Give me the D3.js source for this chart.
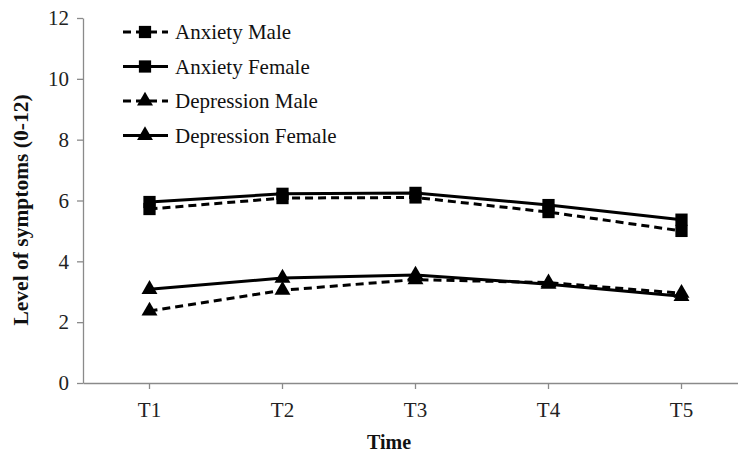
<!DOCTYPE html>
<html><head><meta charset="utf-8">
<script src="https://cdn.jsdelivr.net/npm/d3@7/dist/d3.min.js"></script>
<style>body{margin:0;background:#fff}svg{display:block}svg text{font-family:"Liberation Serif","Times New Roman",serif !important}</style>
</head><body>
<svg id="chart" width="738" height="453"></svg>
<script>
const categories = ["T1", "T2", "T3", "T4", "T5"];
const yTicks = [0, 2, 4, 6, 8, 10, 12];
const seriesNames = ["Anxiety Male", "Anxiety Female", "Depression Male", "Depression Female"];
const anxietyMale = [5.72, 6.08, 6.1, 5.62, 5.0];
const anxietyFemale = [5.95, 6.22, 6.25, 5.85, 5.37];
const depressionMale = [2.37, 3.05, 3.4, 3.3, 2.95];
const depressionFemale = [3.08, 3.45, 3.55, 3.25, 2.85];
const seriesValues = [anxietyMale, anxietyFemale, depressionMale, depressionFemale];
const seriesDashed = [true, false, true, false];
const seriesMarker = ["square", "square", "triangle", "triangle"];

const svg = d3.select("#chart");
const font = "Liberation Serif, Times New Roman, serif";
const mLeft = 83, mTop = 18, mBottom = 383;
const x = d3.scaleBand().domain(categories).range([mLeft, 748]).padding(0);
const y = d3.scaleLinear().domain([0, 12]).range([mBottom, mTop]);
const axisColor = "#8a8a8a";

// y axis
const gy = svg.append("g").attr("transform", `translate(${mLeft},0)`)
  .call(d3.axisLeft(y).tickValues(yTicks).tickSize(6).tickPadding(8).tickSizeOuter(0))
  .attr("font-family", font);
gy.select(".domain").attr("stroke", axisColor).attr("stroke-width", 1.3);
gy.selectAll(".tick line").attr("stroke", axisColor).attr("stroke-width", 1.3);
gy.selectAll(".tick text").style("font-family", font).attr("font-size", 21).attr("fill", "#222");

// x axis
const gx = svg.append("g").attr("transform", `translate(0,${mBottom})`)
  .call(d3.axisBottom(x).tickSize(6).tickPadding(13).tickSizeOuter(0))
  .attr("font-family", font);
gx.select(".domain").attr("stroke", axisColor).attr("stroke-width", 1.3);
gx.selectAll(".tick line").attr("stroke", axisColor).attr("stroke-width", 1.3);
gx.selectAll(".tick text").style("font-family", font).attr("font-size", 21).attr("fill", "#222");

// titles
svg.append("text").attr("x", 389).attr("y", 449).attr("text-anchor", "middle")
  .attr("font-weight", "bold").attr("font-size", 20).attr("fill", "#111").text("Time");
svg.append("text").attr("transform", "translate(28,210) rotate(-90)").attr("text-anchor", "middle")
  .attr("font-weight", "bold").attr("font-size", 21.5).attr("fill", "#111")
  .text("Level of symptoms (0-12)");

const sq = d3.symbol().type(d3.symbolSquare).size(150);
const tri = d3.symbol().type(d3.symbolTriangle).size(110);
const line = d3.line().x((d, i) => x(categories[i]) + x.bandwidth() / 2).y(d => y(d));

seriesValues.forEach((vals, s) => {
  const g = svg.append("g");
  g.append("path").datum(vals).attr("d", line).attr("fill", "none").attr("stroke", "#000")
    .attr("stroke-width", 3).attr("stroke-dasharray", seriesDashed[s] ? "8,5" : null);
  g.selectAll("path.m").data(vals).enter().append("path").attr("class", "m")
    .attr("d", seriesMarker[s] === "square" ? sq : tri)
    .attr("transform", (d, i) => `translate(${x(categories[i]) + x.bandwidth() / 2},${y(d)})`)
    .attr("fill", "#000");
});

// legend
const lg = svg.append("g");
seriesNames.forEach((name, s) => {
  const ly = 32 + s * 34.5;
  lg.append("line").attr("x1", 123).attr("x2", 168).attr("y1", ly).attr("y2", ly)
    .attr("stroke", "#000").attr("stroke-width", 3).attr("stroke-dasharray", seriesDashed[s] ? "8,5" : null);
  lg.append("path").attr("d", seriesMarker[s] === "square" ? sq : tri)
    .attr("transform", `translate(145,${ly})`).attr("fill", "#000");
  lg.append("text").attr("x", 175).attr("y", ly + 7).attr("font-size", 21)
    .attr("fill", "#111").text(name);
});
</script>
</body></html>
